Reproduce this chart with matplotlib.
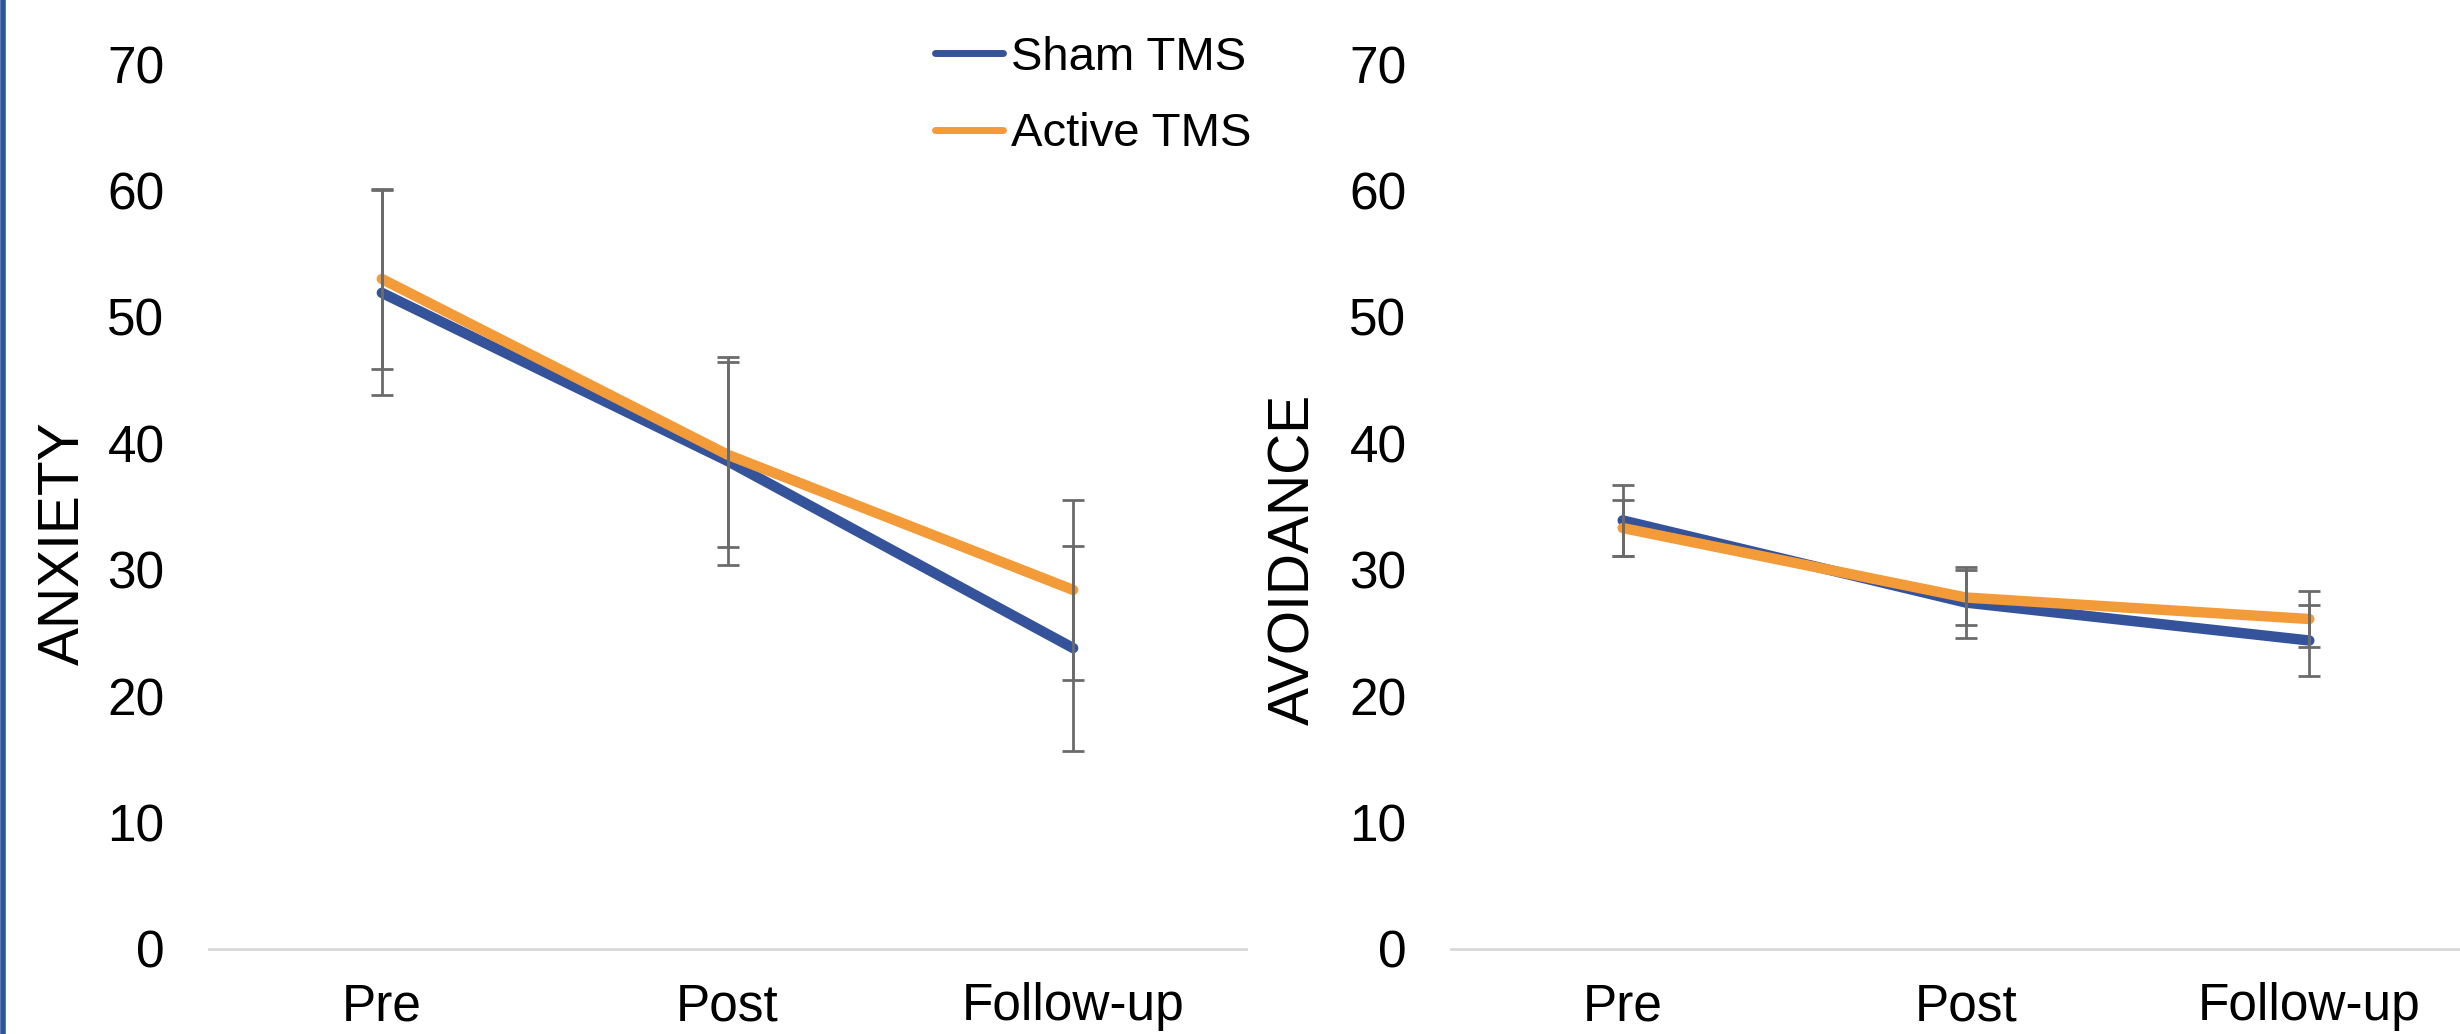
import matplotlib
matplotlib.use("Agg")
import matplotlib.pyplot as plt
from matplotlib.lines import Line2D

plt.rcParams['font.family'] = ['Liberation Sans', 'DejaVu Sans']

timepoints = ['Pre', 'Post', 'Follow-up']

anxiety_sham = [51.9, 38.6, 23.8]
anxiety_active = [53.0, 39.1, 28.4]
anxiety_sham_err = [8.1, 8.2, 8.1]
anxiety_active_err = [7.1, 7.3, 7.1]

avoid_sham = [33.9, 27.4, 24.4]
avoid_active = [33.3, 27.8, 26.1]
avoid_sham_err = [2.8, 2.8, 2.8]
avoid_active_err = [2.2, 2.2, 2.2]

yticks = [0, 10, 20, 30, 40, 50, 60, 70]

SHAM = '#35539A'
ACTIVE = '#F29B38'
ERR = '#6b6b6b'

W, H = 2460, 1034
fig = plt.figure(figsize=(W / 100, H / 100), dpi=100)

bottom = 1 - 949 / H
height = (949 - 64) / H
ax1 = fig.add_axes([209 / W, bottom, 1037 / W, height])
ax2 = fig.add_axes([1451 / W, bottom, 1030 / W, height])

x = list(range(len(timepoints)))


def panel(ax, sham, active, sham_err, active_err):
    ax.plot(x, sham, color=SHAM, lw=7.5, solid_capstyle='round', zorder=3)
    ax.plot(x, active, color=ACTIVE, lw=7.5, solid_capstyle='round', zorder=3)
    ax.errorbar(x, sham, yerr=sham_err, fmt='none', ecolor=ERR,
                elinewidth=2, capsize=8, capthick=2, zorder=4)
    ax.errorbar(x, active, yerr=active_err, fmt='none', ecolor=ERR,
                elinewidth=2, capsize=8, capthick=2, zorder=4)
    ax.set_xlim(-0.5, 2.5)
    ax.set_ylim(0, 70)
    ax.set_yticks(yticks)
    ax.set_xticks(x)
    ax.set_xticklabels(timepoints)
    for s in ['top', 'right', 'left']:
        ax.spines[s].set_visible(False)
    ax.spines['bottom'].set_color('#d9d9d9')
    ax.spines['bottom'].set_linewidth(2)
    ax.tick_params(axis='both', length=0, labelsize=37)
    ax.tick_params(axis='y', pad=32)
    ax.tick_params(axis='x', pad=24)


panel(ax1, anxiety_sham, anxiety_active, anxiety_sham_err, anxiety_active_err)
panel(ax2, avoid_sham, avoid_active, avoid_sham_err, avoid_active_err)

fig.text(64 / W, 1 - 543 / H, 'ANXIETY', rotation=90, fontsize=41,
         ha='center', va='center')
fig.text(1294 / W, 1 - 559 / H, 'AVOIDANCE', rotation=90, fontsize=41,
         ha='center', va='center')

handles = [Line2D([], [], color=SHAM, lw=5, solid_capstyle='round'),
           Line2D([], [], color=ACTIVE, lw=5, solid_capstyle='round')]
fig.legend(handles, ['Sham TMS', 'Active TMS'], loc='upper left',
           bbox_to_anchor=(935 / W, 1 - 36 / H), frameon=False, fontsize=34,
           handlelength=1.45, handletextpad=0.15, labelspacing=0.68,
           borderpad=0, borderaxespad=0)

# blue border on the left edge of the screenshot
fig.add_artist(Line2D([3 / W, 3 / W], [0, 1], color='#2F5597', lw=4,
                      transform=fig.transFigure))

fig.savefig('out.png', dpi=100)
